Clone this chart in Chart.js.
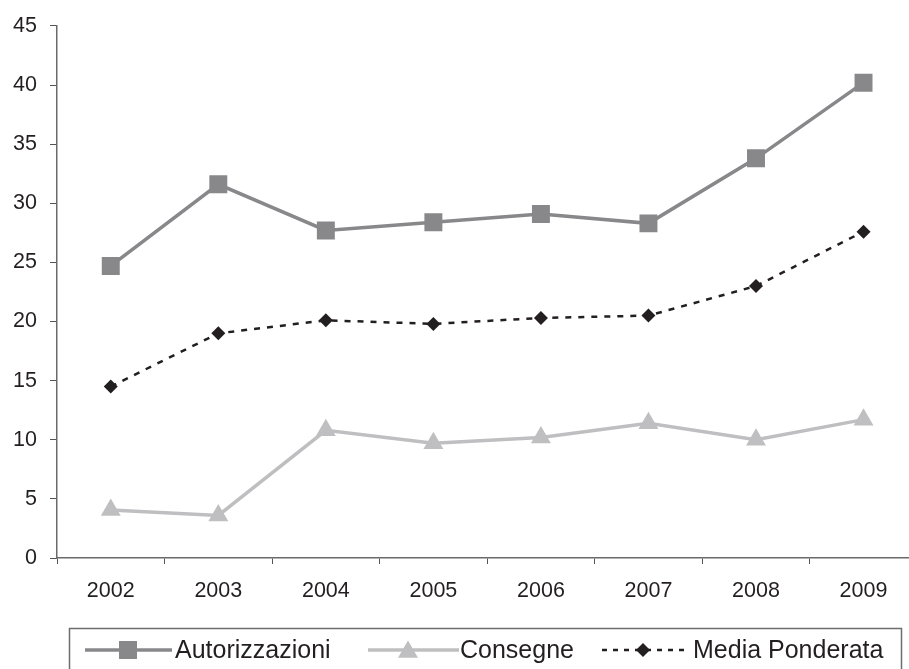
<!DOCTYPE html>
<html>
<head>
<meta charset="utf-8">
<title>Autorizzazioni, Consegne e Media Ponderata 2002-2009</title>
<script src="https://cdn.jsdelivr.net/npm/chart.js@4/dist/chart.umd.min.js"></script>
<style>
  html, body { margin: 0; padding: 0; background: #ffffff; overflow: hidden; }
  #wrap { width: 909px; height: 669px; overflow: hidden; }
  canvas { display: block; }
</style>
</head>
<body>
<div id="wrap"><canvas id="chart" width="930" height="669"></canvas></div>
<script>
// Years on the category axis
const years = ['2002', '2003', '2004', '2005', '2006', '2007', '2008', '2009'];

// Series values
const autorizzazioni = [24.7, 31.6, 27.7, 28.4, 29.1, 28.3, 33.8, 40.2];
const consegne = [4.05, 3.6, 10.8, 9.7, 10.2, 11.4, 10.0, 11.7];
const mediaPonderata = [14.5, 19.0, 20.1, 19.8, 20.3, 20.5, 23.0, 27.6];

// Value axis ticks
const yTicks = [0, 5, 10, 15, 20, 25, 30, 35, 40, 45];

const INK = '#231f20';
const FONT = "'Liberation Sans', Arial, Helvetica, sans-serif";

// Legend drawn below the axis: a framed row with a line sample, marker and label per series
const lineLegend = {
  id: 'lineLegend',
  afterDraw(chart) {
    const ctx = chart.ctx;
    const box = { left: 69.5, top: 628.5, right: 901.5, bottom: 690 };
    const items = [
      { x0: 85, x1: 172, mx: 128, tx: 175 },
      { x0: 368, x1: 459, mx: 408, tx: 460 },
      { x0: 602, x1: 686, mx: 643, tx: 693 }
    ];
    const cy = 650;
    ctx.save();
    ctx.strokeStyle = '#6e6e70';
    ctx.lineWidth = 1.5;
    ctx.strokeRect(box.left, box.top, box.right - box.left, box.bottom - box.top);

    chart.data.datasets.forEach((ds, i) => {
      const it = items[i];
      ctx.save();
      ctx.strokeStyle = ds.borderColor;
      ctx.lineWidth = ds.borderWidth;
      ctx.setLineDash(ds.legendDash || []);
      ctx.beginPath();
      ctx.moveTo(it.x0, cy);
      ctx.lineTo(it.x1, cy);
      ctx.stroke();
      ctx.restore();

      ctx.save();
      ctx.fillStyle = ds.pointBackgroundColor;
      ctx.strokeStyle = ds.pointBackgroundColor;
      Chart.helpers.drawPoint(ctx, {
        pointStyle: ds.pointStyle,
        rotation: 0,
        radius: ds.pointRadius,
        borderWidth: 0
      }, it.mx, cy + (ds.pointStyle === 'triangle' ? 2 : 0));
      ctx.restore();

      ctx.fillStyle = INK;
      ctx.font = '25px ' + FONT;
      ctx.textAlign = 'left';
      ctx.textBaseline = 'alphabetic';
      ctx.fillText(ds.label, it.tx, 658);
    });
    ctx.restore();
  }
};

new Chart(document.getElementById('chart'), {
  type: 'line',
  data: {
    labels: years,
    datasets: [
      {
        label: 'Autorizzazioni',
        data: autorizzazioni,
        borderColor: '#88888b',
        borderWidth: 3.5,
        pointStyle: 'rect',
        pointRadius: 12.7,
        pointBackgroundColor: '#88888b',
        pointBorderColor: '#88888b',
        pointBorderWidth: 0,
        tension: 0,
        fill: false
      },
      {
        label: 'Consegne',
        data: consegne,
        borderColor: '#bfbfc1',
        borderWidth: 3.5,
        pointStyle: 'triangle',
        pointRadius: 11.5,
        pointBackgroundColor: '#bfbfc1',
        pointBorderColor: '#bfbfc1',
        pointBorderWidth: 0,
        tension: 0,
        fill: false
      },
      {
        label: 'Media Ponderata',
        data: mediaPonderata,
        borderColor: INK,
        borderWidth: 2.5,
        borderDash: [6, 7],
        legendDash: [5, 6],
        pointStyle: 'rectRot',
        pointRadius: 7,
        pointBackgroundColor: INK,
        pointBorderColor: INK,
        pointBorderWidth: 0,
        tension: 0,
        fill: false
      }
    ]
  },
  options: {
    responsive: false,
    animation: false,
    devicePixelRatio: 1,
    layout: { padding: { top: 25, right: 11, bottom: 0, left: 0 } },
    plugins: {
      legend: { display: false },
      tooltip: { enabled: false },
      title: { display: false }
    },
    scales: {
      x: {
        type: 'category',
        offset: true,
        grid: {
          offset: true,
          drawOnChartArea: false,
          drawTicks: true,
          tickLength: 6,
          color: '#555555',
          lineWidth: 1
        },
        border: { display: true, color: '#6a6a6a', width: 1.5 },
        ticks: {
          color: INK,
          font: { family: FONT, size: 21.5 },
          padding: 14,
          maxRotation: 0,
          autoSkip: false
        },
        afterFit(scale) { scale.height = 111; }
      },
      y: {
        min: 0,
        max: 45,
        afterBuildTicks(scale) { scale.ticks = yTicks.map(v => ({ value: v })); },
        grid: {
          drawOnChartArea: false,
          drawTicks: true,
          tickLength: 7,
          color: '#555555',
          lineWidth: 1
        },
        border: { display: true, color: '#6a6a6a', width: 1.5 },
        ticks: {
          color: INK,
          font: { family: FONT, size: 21.5 },
          padding: 13
        },
        afterFit(scale) { scale.width = 57; }
      }
    }
  },
  plugins: [lineLegend]
});
</script>
</body>
</html>
